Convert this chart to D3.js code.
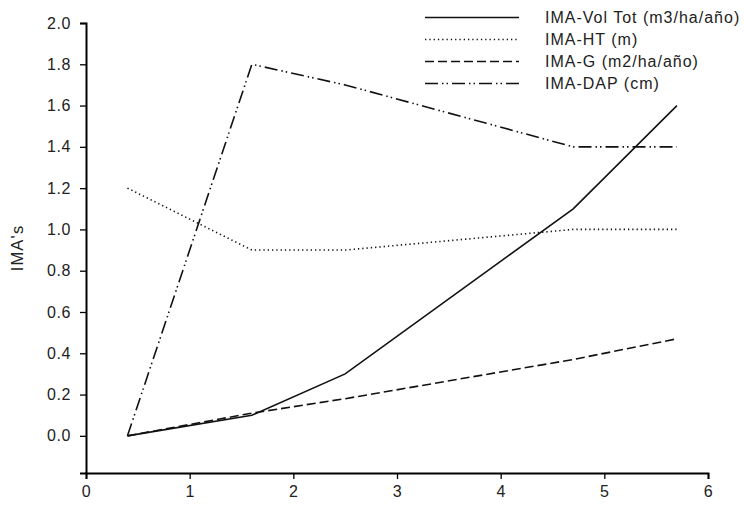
<!DOCTYPE html>
<html>
<head>
<meta charset="utf-8">
<script src="https://cdn.jsdelivr.net/npm/d3@7"></script>
<style>
  html, body { margin: 0; padding: 0; background: #fff; }
  svg text { font-family: "Liberation Sans", Arial, sans-serif; fill: #222; }
</style>
</head>
<body>
<svg id="chart" width="744" height="506"></svg>
<script>
// Edad (años) de cada medición
const ages = [0.4, 1.6, 2.5, 4.7, 5.7];

// Incrementos medios anuales por variable
const volTot = [0, 0.1, 0.3, 1.1, 1.6];
const ht     = [1.2, 0.9, 0.9, 1.0, 1.0];
const gArea  = [0, 0.11, 0.18, 0.37, 0.47];
const dap    = [0, 1.8, 1.7, 1.4, 1.4];

const seriesNames = ["IMA-Vol Tot (m3/ha/año)", "IMA-HT (m)", "IMA-G (m2/ha/año)", "IMA-DAP (cm)"];
const xTicks = [0, 1, 2, 3, 4, 5, 6];
const yTicks = [0, 0.2, 0.4, 0.6, 0.8, 1.0, 1.2, 1.4, 1.6, 1.8, 2.0];
const yLabel = "IMA's";

const series = [
  { name: seriesNames[0], values: volTot, dash: null },
  { name: seriesNames[1], values: ht,     dash: "1.3,3" },
  { name: seriesNames[2], values: gArea,  dash: "9,4" },
  { name: seriesNames[3], values: dap,    dash: "13,4,1.5,3,1.5,4" }
];

const svg = d3.select("#chart");
const x = d3.scaleLinear().domain([0, 6]).range([86, 708]);
const y = d3.scaleLinear().domain([-0.18, 2.0]).range([473, 23]);

// Ejes
const xAxis = svg.append("g").attr("transform", `translate(0,${y(-0.18)})`)
  .call(d3.axisBottom(x).tickValues(xTicks).tickFormat(d3.format("d")).tickSizeOuter(0).tickSize(6).tickPadding(7));
const yAxis = svg.append("g").attr("transform", `translate(${x(0)},0)`)
  .call(d3.axisLeft(y).tickValues(yTicks).tickFormat(d3.format(".1f")).tickSizeOuter(0).tickSize(6).tickPadding(9));

[xAxis, yAxis].forEach(g => {
  g.select(".domain").attr("stroke", "#000").attr("stroke-width", 2);
  g.selectAll(".tick line").attr("stroke", "#000").attr("stroke-width", 1.3);
  g.selectAll(".tick text").attr("font-size", 16).attr("fill", "#222")
    .attr("letter-spacing", "0.6px")
    .attr("font-family", "Liberation Sans, Arial, sans-serif");
});

svg.append("text")
  .attr("transform", `translate(23,${(y(2.0) + y(-0.18)) / 2}) rotate(-90)`)
  .attr("text-anchor", "middle")
  .attr("font-size", 16.5)
  .attr("letter-spacing", "1.2px")
  .text(yLabel);

// Líneas
const line = d3.line().x((d, i) => x(ages[i])).y(d => y(d));
series.forEach(s => {
  svg.append("path")
    .datum(s.values)
    .attr("d", line)
    .attr("fill", "none")
    .attr("stroke", "#111")
    .attr("stroke-width", 1.6)
    .attr("stroke-dasharray", s.dash);
});

// Leyenda
const legend = svg.append("g");
series.forEach((s, i) => {
  const yy = 17.5 + i * 22;
  legend.append("line")
    .attr("x1", 425).attr("x2", 519).attr("y1", yy).attr("y2", yy)
    .attr("stroke", "#111").attr("stroke-width", 1.6)
    .attr("stroke-dasharray", s.dash);
  legend.append("text")
    .attr("x", 545).attr("y", yy).attr("dy", "0.35em")
    .attr("font-size", 16)
    .attr("letter-spacing", "1px")
    .text(s.name);
});
</script>
</body>
</html>
